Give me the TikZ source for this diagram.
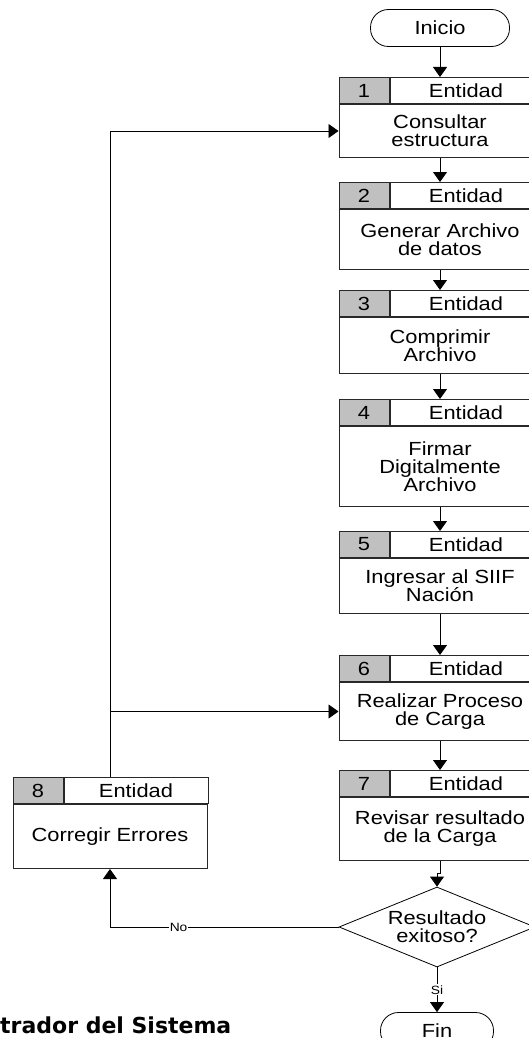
\documentclass[tikz,border=0pt]{standalone}
\usepackage{fontspec}
\setmainfont[FakeStretch=1.15]{Liberation Sans}
\newfontfamily\rolfont{DejaVu Sans}
\usetikzlibrary{arrows.meta,shapes.geometric,positioning}
\definecolor{cellgray}{RGB}{192,192,192}
\definecolor{linegray}{RGB}{40,40,40}
\tikzset{
  txt/.style={font=\fontsize{19}{18}\selectfont},
  body/.style={draw=linegray, line width=1pt, align=center, txt, inner sep=2pt},
  numcell/.style={draw=linegray, line width=1pt, fill=cellgray, minimum width=50pt, minimum height=26pt, txt, inner sep=0pt},
  head/.style={draw=linegray, line width=1pt, minimum height=26pt, txt, inner sep=0pt},
  term/.style={draw, line width=0.8pt, rounded corners=18pt, minimum height=37pt, txt},
  dia/.style={draw, line width=0.8pt, diamond, aspect=2.45, inner sep=0pt, minimum width=196pt, minimum height=80pt, align=center, txt},
  lbl/.style={fill=white, inner sep=1pt, font=\fontsize{12}{12}\selectfont},
  arr/.style={line width=0.8pt, -{Triangle[width=14pt,length=10pt]}}
}
\begin{document}
\begin{tikzpicture}[x=1pt,y=-1pt]
	\useasboundingbox (0,0) rectangle (529,1038);
	\node[term, minimum width=139pt] (ini) at (440,28) {Inicio};
	% activity boxes: number / centre x / body top / width / body height / text
	\foreach \n/\x/\yt/\w/\h/\txt in {
		1/440/104/202/53/{Consultar\\estructura},
		2/440/209/202/60/{Generar Archivo\\de datos},
		3/440/317/202/56/{Comprimir\\Archivo},
		4/440/426/202/80/{Firmar\\Digitalmente\\Archivo},
		5/440/558/202/55/{Ingresar al SIIF\\Naci\'on},
		6/440/682/202/58/{Realizar Proceso\\de Carga},
		7/440/797/202/63/{Revisar resultado\\de la Carga},
		8/110/804/194/64/{Corregir Errores}}{
		\node[body, anchor=north, minimum width=\w pt, minimum height=\h pt] (s\n) at (\x,\yt) {\txt};
		\node[numcell, anchor=south west] (n\n) at (s\n.north west) {\n};
		\node[head, anchor=south west, minimum width={(\w-50)*1pt}] (h\n) at (n\n.south east) {Entidad};
	}
	\node[dia] (dec) at (437,927) {Resultado\\exitoso?};
	\node[term, minimum width=113pt] (fin) at (437,1031) {Fin};
	\node[anchor=base west, inner sep=0pt, font=\rolfont\bfseries\fontsize{22}{22}\selectfont] (rol) at (0,1033) {trador del Sistema};
	% main flow
	\draw[arr] (ini) -- (ini |- h1.north);
	\foreach \a/\b in {1/2,2/3,3/4,4/5,5/6,6/7}
		\draw[arr] (s\a.south) -- (s\a.south |- h\b.north);
	\draw[arr] (s7.south) -- ++(0,12) -| (dec.north);
	\draw[arr] (dec) -- node[lbl]{Si} (fin);
	% error loop
	\draw[arr] (dec.west) -| node[lbl, pos=0.35]{No} (s8.south);
	\draw[arr] (s8.north |- h8.north) |- (s1.west);
	\draw[arr] (s8.north |- s6.west) -- (s6.west);
\end{tikzpicture}
\end{document}
